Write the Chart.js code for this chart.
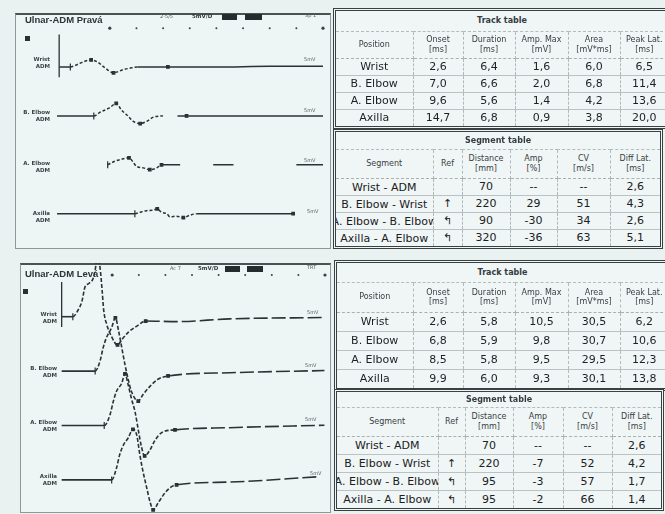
<!DOCTYPE html>
<html>
<head>
<meta charset="utf-8">
<script src="https://cdn.jsdelivr.net/npm/chart.js@4.4.1/dist/chart.umd.min.js"></script>
<style>
html, body { margin: 0; padding: 0; }
body { width: 665px; height: 514px; overflow: hidden; position: relative; background: #e9f1f1; font-family: "DejaVu Sans", sans-serif; color: #22292b; }
.panel { position: absolute; box-sizing: border-box; background: #eef5f5; border: 1px solid #8e9898; border-top: 2px solid #4b5252; }
canvas { position: absolute; }
.ptitle { position: absolute; font: bold 9.5px "Liberation Sans", Arial, sans-serif; color: #2e3436; white-space: nowrap; }
.sq { position: absolute; width: 5px; height: 5px; background: #2b3033; }
.blk { position: absolute; height: 6px; background: #262b2d; }
.tiny { position: absolute; font-size: 5px; color: #555d5f; white-space: nowrap; }
.tinyb { position: absolute; font: bold 5.5px "DejaVu Sans", sans-serif; color: #333a3c; white-space: nowrap; }
.tlab { position: absolute; font: bold 5.5px "DejaVu Sans", sans-serif; line-height: 7px; text-align: right; color: #3c4345; white-space: pre; }
.tbox { position: absolute; border: 3px double #384040; background: #f0f6f6; overflow: hidden; }
.tbox table { border-collapse: collapse; table-layout: fixed; }
.tbox td { padding: 0; text-align: center; white-space: nowrap; overflow: hidden; position: relative; }
.tbox td.ttl { font: bold 8px "DejaVu Sans", sans-serif; color: #353c3e; border-bottom: 1px dashed #b3bcbc; }
.tbox tr.hd td { font-size: 8px; line-height: 9.5px; color: #394042; white-space: pre; border-bottom: 1px dashed #a7b1b1; border-right: 1px dashed #b0baba; }
.tbox tr.rw td { font-size: 11px; color: #1b2123; border-bottom: 1px solid #b9c3c3; border-right: 1px dashed #b0baba; }
.tbox tr.rw td.nm span { position: absolute; left: 50%; top: 50%; transform: translate(-50%, -50%); }
.tbox tr td:last-child { border-right: none; }
.tbox tr:last-child td { border-bottom: none; }
</style>
</head>
<body>

<div class="panel" style="left:15px; top:13px; width:316px; height:236px;"></div>
<div class="panel" style="left:20px; top:263px; width:311px; height:250px;"></div>

<canvas id="topChart" width="315" height="235" style="left:15px; top:13px;"></canvas>
<canvas id="botChart" width="310" height="249" style="left:20px; top:263px;"></canvas>

<!-- top panel header -->
<div class="ptitle" style="left:25px; top:14px;">Ulnar-ADM Pravá</div>
<div class="sq" style="left:25px; top:36px;"></div>
<div class="tiny" style="left:160px; top:13px;">2-5/5</div>
<div class="tinyb" style="left:192px; top:13px;">5mV/D</div>
<div class="blk" style="left:222px; top:14px; width:15px;"></div>
<div class="blk" style="left:245px; top:14px; width:17px;"></div>
<div class="tiny" style="left:305px; top:12px;">Sp 1</div>
<div class="tlab" style="right:615px; top:56px;">Wrist
ADM</div>
<div class="tlab" style="right:615px; top:109px;">B. Elbow
ADM</div>
<div class="tlab" style="right:615px; top:160px;">A. Elbow
ADM</div>
<div class="tlab" style="right:615px; top:210px;">Axilla
ADM</div>
<div class="tiny" style="left:304px; top:56px;">5mV</div>
<div class="tiny" style="left:304px; top:107px;">5mV</div>
<div class="tiny" style="left:304px; top:157px;">5mV</div>
<div class="tiny" style="left:307px; top:208px;">5mV</div>

<!-- bottom panel header -->
<div class="ptitle" style="left:25px; top:268px;">Ulnar-ADM Levá</div>
<div class="sq" style="left:23px; top:289px;"></div>
<div class="tiny" style="left:170px; top:265px;">Ac 7</div>
<div class="tinyb" style="left:198px; top:265px;">5mV/D</div>
<div class="blk" style="left:225px; top:266px; width:15px;"></div>
<div class="blk" style="left:247px; top:266px; width:16px;"></div>
<div class="tiny" style="left:307px; top:264px;">TRT</div>
<div class="tlab" style="right:608px; top:311px;">Wrist
ADM</div>
<div class="tlab" style="right:608px; top:365px;">B. Elbow
ADM</div>
<div class="tlab" style="right:608px; top:419px;">A. Elbow
ADM</div>
<div class="tlab" style="right:608px; top:473px;">Axilla
ADM</div>
<div class="tiny" style="left:307px; top:309px;">5mV</div>
<div class="tiny" style="left:305px; top:362px;">5mV</div>
<div class="tiny" style="left:305px; top:416px;">5mV</div>
<div class="tiny" style="left:310px; top:470px;">5mV</div>

<div id="tables"></div>

<script>
'use strict'

// ---- waveform data (time in ms, amplitude in mV relative to each trace baseline) ----
var tickTimes = [10, 15, 20, 25, 30, 35, 40, 45, 50]

// top recording (Pravá)
var topOffsets = [0, -8, -16, -24]
var topStimT = [0.5, 0.5]
var topStimV = [5.3, -1.7]

var topWristT = [0.5, 2.6, 3.5, 4.7, 5.6, 6.5, 7.6, 9.1, 10.7, 12.5, 14.1, 15.2, 20.9, 30, 40, 50]
var topWristV = [0, 0, 0.25, 0.7, 1.0, 1.15, 0.85, -0.15, -0.95, -0.45, -0.15, 0, 0, 0, 0.1, 0.1]
var topWristMarks = [1, 5, 8, 12]

var topBElbowT = [0.1, 7.0, 8.2, 10.0, 11.2, 12.2, 13.5, 14.4, 15.7, 16.9, 18.2, 20.0, 21.0, 22.7, 24.4, 50]
var topBElbowV = [0, 0, 0.6, 1.35, 2.05, 0.95, -0.1, -0.9, -1.25, -0.9, -0.2, 0, null, 0, 0, 0]
var topBElbowMarks = [1, 4, 8, 14]

var topAElbowT = [9.6, 11.0, 12.2, 13.6, 14.4, 15.0, 16.3, 17.5, 18.8, 19.7, 23.2, 26, 29.4, 33.2, 38, 45, 50]
var topAElbowV = [0, 0.6, 0.9, 1.15, 0.4, -0.25, -0.5, -0.8, -0.5, 0, 0, null, 0, 0, null, 0, 0]
var topAElbowMarks = [0, 3, 7, 9]

var topAxillaT = [0.1, 14.7, 15.7, 16.9, 18.2, 18.9, 19.7, 20.7, 21.3, 22.5, 23.8, 25.0, 26.3, 41, 44.4]
var topAxillaV = [0, 0, 0.25, 0.5, 0.6, 0.8, 0.25, 0, -0.5, -0.4, -0.65, -0.25, 0, 0, 0]
var topAxillaMarks = [1, 5, 10, 14]

// bottom recording (Levá)
var botOffsets = [0, -10, -20, -30]
var botStimT = [0.5, 0.5]
var botStimV = [6.4, -1.9]

var botWristT = [0.5, 2.6, 3.4, 4.3, 4.9, 5.6, 6.4, 6.85, 7.1, 7.7, 8.1, 8.4, 9.0, 9.8, 11.0, 11.9, 13.1, 14.7, 16.3, 22.1, 32.1, 49.9]
var botWristV = [0, 0, 0.9, 2.8, 5.5, 6.1, 7.0, 8.9, 10.5, 9.1, 4.9, 1.2, -1.5, -3.5, -5.2, -4.1, -2.8, -1.7, -0.8, -0.9, -0.4, -0.15]
var botWristMarks = [1, 8, 14, 18]

var botBElbowT = [0.5, 6.8, 7.7, 8.3, 8.9, 9.9, 10.6, 11.2, 11.8, 12.4, 13.0, 13.6, 14.9, 15.8, 17.1, 18.6, 20.5, 32.1, 49.9]
var botBElbowV = [0, 0, 1.8, 4.3, 6.1, 8.0, 9.8, 7.4, 4.3, 1.2, -1.5, -3.7, -5.5, -4.3, -2.8, -1.5, -0.9, -0.3, 0.1]
var botBElbowMarks = [1, 6, 12, 16]

var botAElbowT = [0.5, 8.5, 9.6, 10.2, 10.8, 11.8, 12.4, 13.0, 13.6, 14.3, 14.9, 15.5, 16.1, 17.1, 18.0, 19.3, 21.8, 32.1, 49.9]
var botAElbowV = [0, 0, 2.0, 4.4, 6.25, 7.8, 9.5, 7.5, 5.0, 2.5, -0.8, -3.9, -5.6, -4.5, -2.8, -1.3, -0.8, -0.4, 0.05]
var botAElbowMarks = [1, 6, 12, 16]

var botAxillaT = [0.5, 9.9, 10.8, 11.4, 12.1, 13.0, 13.9, 14.6, 15.2, 15.8, 16.5, 17.1, 17.7, 18.6, 19.6, 20.8, 22.1, 32.1, 48.4]
var botAxillaV = [0, 0, 2.15, 4.6, 6.4, 7.7, 9.3, 8.3, 4.6, 1.5, -1.5, -4.0, -5.5, -4.3, -2.8, -1.5, -0.9, -0.4, 0.55]
var botAxillaMarks = [1, 6, 12, 16]

// ---- table data ----
var positions = ['Wrist', 'B. Elbow', 'A. Elbow', 'Axilla']
var trackHeads = ['Position', 'Onset\n[ms]', 'Duration\n[ms]', 'Amp. Max\n[mV]', 'Area\n[mV*ms]', 'Peak Lat.\n[ms]']
var topOnset = [2.6, 7.0, 9.6, 14.7]
var topDuration = [6.4, 6.6, 5.6, 6.8]
var topAmpMax = [1.6, 2.0, 1.4, 0.9]
var topArea = [6.0, 6.8, 4.2, 3.8]
var topPeakLat = [6.5, 11.4, 13.6, 20.0]
var botOnset = [2.6, 6.8, 8.5, 9.9]
var botDuration = [5.8, 5.9, 5.8, 6.0]
var botAmpMax = [10.5, 9.8, 9.5, 9.3]
var botArea = [30.5, 30.7, 29.5, 30.1]
var botPeakLat = [6.2, 10.6, 12.3, 13.8]

var segments = ['Wrist - ADM', 'B. Elbow - Wrist', 'A. Elbow - B. Elbow', 'Axilla - A. Elbow']
var segRef = ['', '\u2191', '\u21B0', '\u21B0']
var segHeads = ['Segment', 'Ref', 'Distance\n[mm]', 'Amp\n[%]', 'CV\n[m/s]', 'Diff Lat.\n[ms]']
var topDistance = [70, 220, 90, 320]
var topAmpPct = [null, 29, -30, -36]
var topCV = [null, 51, 34, 63]
var topDiffLat = [2.6, 4.3, 2.6, 5.1]
var botDistance = [70, 220, 95, 95]
var botAmpPct = [null, -7, -3, -2]
var botCV = [null, 52, 57, 66]
var botDiffLat = [2.6, 4.2, 1.7, 1.4]

var ink = '#2c3234'

function dec(n){
    return n.toFixed(1).replace('.', ',')
}
function intOrDash(n){
    return n === null ? '--' : String(n)
}

function traceSet(t, v, offset, marks, style){
    var pts = []
    for(let i = 0; i < t.length; i++){
        pts.push({x: t[i], y: v[i] === null ? null : v[i] + offset})
    }
    var onset = t[marks[0]]
    var end = t[marks[marks.length - 1]]
    if(style.waveEnd !== undefined) end = t[style.waveEnd]
    return {
        data: pts,
        borderColor: ink,
        borderWidth: style.width,
        spanGaps: false,
        cubicInterpolationMode: 'monotone',
        pointRadius: function(ctx){ return marks.indexOf(ctx.dataIndex) > -1 ? (ctx.dataIndex === marks[0] ? 3.5 : 1.8) : 0 },
        pointStyle: function(ctx){ return ctx.dataIndex === marks[0] ? 'line' : 'rect' },
        pointRotation: 90,
        pointBackgroundColor: ink,
        pointBorderColor: ink,
        pointBorderWidth: 1.2,
        segment: {
            borderDash: function(ctx){
                if(ctx.p1.parsed.x <= onset) return style.before
                if(ctx.p0.parsed.x < end) return style.wave
                return style.after
            }
        }
    }
}

function stimSet(t, v){
    var pts = []
    for(let i = 0; i < t.length; i++) pts.push({x: t[i], y: v[i]})
    return {data: pts, borderColor: ink, borderWidth: 1.3, pointRadius: 0}
}

var tickPlugin = {
    id: 'tickDots',
    afterDatasetsDraw: function(chart, args, opts){
        var c = chart.ctx
        var xs = chart.scales.x
        c.save()
        c.fillStyle = '#3a4143'
        for(let i = 0; i < tickTimes.length; i++){
            var px = xs.getPixelForValue(tickTimes[i])
            var r = (i === 0 || i === tickTimes.length - 1) ? 1.6 : 1
            c.beginPath()
            c.arc(px, chart.chartArea.top + opts.y, r, 0, Math.PI * 2)
            c.fill()
        }
        c.restore()
    }
}

function makeChart(id, sets, yMin, yMax, padL, padR, tickY){
    new Chart(document.getElementById(id), {
        type: 'line',
        data: {datasets: sets},
        options: {
            responsive: false,
            animation: false,
            layout: {padding: {left: padL, right: padR, top: 0, bottom: 0}},
            scales: {
                x: {type: 'linear', min: 0, max: 50, display: false},
                y: {type: 'linear', min: yMin, max: yMax, display: false}
            },
            plugins: {legend: {display: false}, tooltip: {enabled: false}, tickDots: {y: tickY}}
        },
        plugins: [tickPlugin]
    })
}

var topStyle = {width: 1.5, before: [], wave: [3, 2], after: []}
var topSets = [
    stimSet(topStimT, topStimV),
    traceSet(topWristT, topWristV, topOffsets[0], topWristMarks, Object.assign({waveEnd: 11}, topStyle)),
    traceSet(topBElbowT, topBElbowV, topOffsets[1], topBElbowMarks, Object.assign({waveEnd: 11}, topStyle)),
    traceSet(topAElbowT, topAElbowV, topOffsets[2], topAElbowMarks, Object.assign({waveEnd: 9}, topStyle)),
    traceSet(topAxillaT, topAxillaV, topOffsets[3], topAxillaMarks, Object.assign({waveEnd: 12}, topStyle))
]
makeChart('topChart', topSets, -(248 - 64) / 6.4, (64 - 13) / 6.4, 41.5, 7, 10)

var botStyle = {width: 1.6, before: [], wave: [4, 2], after: [14, 4]}
var botSets = [
    stimSet(botStimT, botStimV),
    traceSet(botWristT, botWristV, botOffsets[0], botWristMarks, botStyle),
    traceSet(botBElbowT, botBElbowV, botOffsets[1], botBElbowMarks, botStyle),
    traceSet(botAElbowT, botAElbowV, botOffsets[2], botAElbowMarks, botStyle),
    traceSet(botAxillaT, botAxillaV, botOffsets[3], botAxillaMarks, botStyle)
]
makeChart('botChart', botSets, -(512 - 316.7) / 5.44, (316.7 - 263) / 5.44, 39, 5, 12)

// ---- tables ----
function makeTable(x, y, colW, heights, title, heads, rows, nameCol){
    var box = document.createElement('div')
    box.className = 'tbox'
    box.style.left = x + 'px'
    box.style.top = y + 'px'
    var w = colW.reduce(function(a, b){ return a + b }, 0)
    box.style.width = w + 'px'
    var html = '<table style="width:' + w + 'px"><colgroup>'
    colW.forEach(function(cw){ html += '<col style="width:' + cw + 'px">' })
    html += '</colgroup>'
    html += '<tr style="height:' + heights[0] + 'px"><td class="ttl" colspan="' + colW.length + '">' + title + '</td></tr>'
    html += '<tr class="hd" style="height:' + heights[1] + 'px">'
    heads.forEach(function(h){ html += '<td>' + h + '</td>' })
    html += '</tr>'
    rows.forEach(function(r){
        html += '<tr class="rw" style="height:' + heights[2] + 'px">'
        r.forEach(function(c, i){
            html += '<td' + (i === 0 && nameCol ? ' class="nm"' : '') + '><span>' + c + '</span></td>'
        })
        html += '</tr>'
    })
    html += '</table>'
    box.innerHTML = html
    document.getElementById('tables').appendChild(box)
}

function trackRows(on, du, am, ar, pl){
    var rows = []
    for(let i = 0; i < positions.length; i++){
        rows.push([positions[i], dec(on[i]), dec(du[i]), dec(am[i]), dec(ar[i]), dec(pl[i])])
    }
    return rows
}
function segRows(di, ap, cv, dl){
    var rows = []
    for(let i = 0; i < segments.length; i++){
        rows.push([segments[i], segRef[i], String(di[i]), intOrDash(ap[i]), intOrDash(cv[i]), dec(dl[i])])
    }
    return rows
}

makeTable(333, 8, [77, 50, 52, 53, 52, 48], [20, 27, 17], 'Track table', trackHeads,
    trackRows(topOnset, topDuration, topAmpMax, topArea, topPeakLat), false)
makeTable(333, 129, [97, 29, 48, 47, 53, 50], [17, 29, 17], 'Segment table', segHeads,
    segRows(topDistance, topAmpPct, topCV, topDiffLat), true)
makeTable(334, 260, [76, 50, 52, 53, 52, 48], [19, 30, 19], 'Track table', trackHeads,
    trackRows(botOnset, botDuration, botAmpMax, botArea, botPeakLat), false)
makeTable(334, 389, [101, 27, 48, 50, 49, 49], [15, 29, 18], 'Segment table', segHeads,
    segRows(botDistance, botAmpPct, botCV, botDiffLat), true)
</script>
</body>
</html>
